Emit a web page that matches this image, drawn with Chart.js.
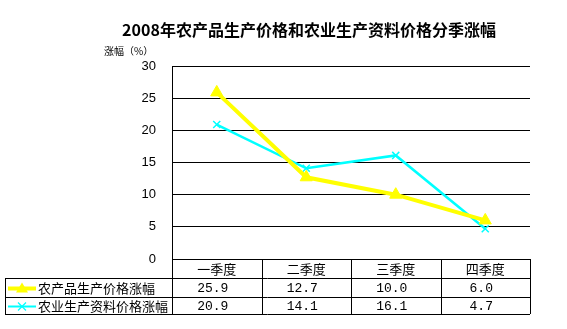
<!DOCTYPE html>
<html>
<head>
<meta charset="utf-8">
<script src="https://cdn.jsdelivr.net/npm/chart.js@4.4.0/dist/chart.umd.min.js"></script>
<style>
    html, body { margin: 0; padding: 0; background: #fff; }
    canvas { display: block; }
</style>
</head>
<body>
<canvas id="priceChart" width="567" height="329"></canvas>
<script>
// Quarterly growth figures, 2008
const quarters = ['一季度', '二季度', '三季度', '四季度'];
const produceRise = [25.9, 12.7, 10.0, 6.0];
const inputRise = [20.9, 14.1, 16.1, 4.7];
const seriesNames = ['农产品生产价格涨幅', '农业生产资料价格涨幅'];
const chartTitle = '2008年农产品生产价格和农业生产资料价格分季涨幅';
const axisTitle = '涨幅（%）';

const cjkFont = '"Noto Sans CJK SC", sans-serif';

// Draws a series marker (short line + symbol) for the table's label column
function drawKey(ctx, x, y, color, lineWidth, shape) {
    ctx.save();
    ctx.strokeStyle = color;
    ctx.fillStyle = color;
    ctx.lineWidth = lineWidth;
    ctx.beginPath();
    ctx.moveTo(x, y);
    ctx.lineTo(x + 28, y);
    ctx.stroke();
    const cx = x + 14;
    if (shape === 'triangle') {
        ctx.beginPath();
        ctx.moveTo(cx, y - 6);
        ctx.lineTo(cx + 6, y + 4);
        ctx.lineTo(cx - 6, y + 4);
        ctx.closePath();
        ctx.fill();
    } else {
        ctx.lineWidth = 1.2;
        ctx.beginPath();
        ctx.moveTo(cx - 4, y - 4);
        ctx.lineTo(cx + 4, y + 4);
        ctx.moveTo(cx + 4, y - 4);
        ctx.lineTo(cx - 4, y + 4);
        ctx.stroke();
    }
    ctx.restore();
}

// Title, axis caption and the data table under the plot
const tablePlugin = {
    id: 'dataTable',
    afterDraw(chart) {
        const ctx = chart.ctx;
        const area = chart.chartArea;
        const colW = (area.right - area.left) / quarters.length;
        const tableLeft = 5;
        const headTop = area.bottom;
        const rowTops = [headTop, 278, 297, 314];

        ctx.save();
        ctx.fillStyle = '#000';
        ctx.textBaseline = 'middle';

        ctx.font = 'bold 16px ' + cjkFont;
        ctx.textAlign = 'center';
        ctx.fillText(chartTitle, 309, 30);

        ctx.font = '10px ' + cjkFont;
        ctx.textAlign = 'left';
        ctx.fillText(axisTitle, 104, 51);

        // grid of the table
        ctx.strokeStyle = '#000';
        ctx.lineWidth = 1;
        ctx.beginPath();
        for (let i = 1; i < rowTops.length; i++) {
            ctx.moveTo(tableLeft, Math.round(rowTops[i]) + 0.5);
            ctx.lineTo(area.right, Math.round(rowTops[i]) + 0.5);
        }
        ctx.moveTo(tableLeft + 0.5, rowTops[1]);
        ctx.lineTo(tableLeft + 0.5, rowTops[3]);
        for (let i = 0; i <= quarters.length; i++) {
            const x = Math.round(area.left + i * colW) + 0.5;
            ctx.moveTo(x, headTop);
            ctx.lineTo(x, rowTops[3]);
        }
        ctx.stroke();

        // header cells
        ctx.font = '13px ' + cjkFont;
        ctx.textAlign = 'center';
        quarters.forEach((q, i) => {
            ctx.fillText(q, chart.scales.x.getPixelForValue(i), (rowTops[0] + rowTops[1]) / 2 + 1);
        });

        // data rows
        const rows = [produceRise, inputRise];
        rows.forEach((values, r) => {
            const yMid = (rowTops[r + 1] + rowTops[r + 2]) / 2 + 1;
            const ds = chart.data.datasets[r];
            drawKey(ctx, 8, yMid, ds.borderColor, r === 0 ? 4 : 2, r === 0 ? 'triangle' : 'cross');
            ctx.fillStyle = '#000';
            ctx.font = '13px ' + cjkFont;
            ctx.textAlign = 'left';
            ctx.fillText(seriesNames[r], 38, yMid);
            ctx.font = '13px "Liberation Mono", monospace';
            ctx.textAlign = 'center';
            values.forEach((v, i) => {
                ctx.fillText(v.toFixed(1), chart.scales.x.getPixelForValue(i) - 4, yMid);
            });
        });
        ctx.restore();
    }
};

function renderChart() {
    const ctx = document.getElementById('priceChart').getContext('2d');
    new Chart(ctx, {
        type: 'line',
        data: {
            labels: quarters,
            datasets: [{
                label: seriesNames[0],
                data: produceRise,
                borderColor: '#FFFF00',
                backgroundColor: '#FFFF00',
                borderWidth: 4,
                pointStyle: 'triangle',
                pointRadius: 7,
                pointBorderWidth: 1,
            }, {
                label: seriesNames[1],
                data: inputRise,
                borderColor: '#00FFFF',
                backgroundColor: '#00FFFF',
                borderWidth: 2.5,
                pointStyle: 'crossRot',
                pointRadius: 5,
                pointBorderWidth: 1.5,
            }],
        },
        options: {
            responsive: false,
            animation: false,
            layout: {
                padding: { left: 132, right: 37, top: 66, bottom: 70 },
            },
            plugins: {
                legend: { display: false },
                tooltip: { enabled: false },
            },
            scales: {
                x: {
                    display: false,
                    offset: true,
                },
                y: {
                    min: 0,
                    max: 30,
                    afterFit(scale) { scale.width = 40; },
                    ticks: {
                        stepSize: 5,
                        color: '#000',
                        padding: 16,
                        font: { family: '"Liberation Sans", Arial', size: 13 },
                    },
                    grid: {
                        color: '#000',
                        lineWidth: 1,
                        drawTicks: false,
                    },
                    border: { display: true, color: '#000', width: 1 },
                },
            },
        },
        plugins: [tablePlugin],
    });
}

renderChart();
</script>
</body>
</html>
